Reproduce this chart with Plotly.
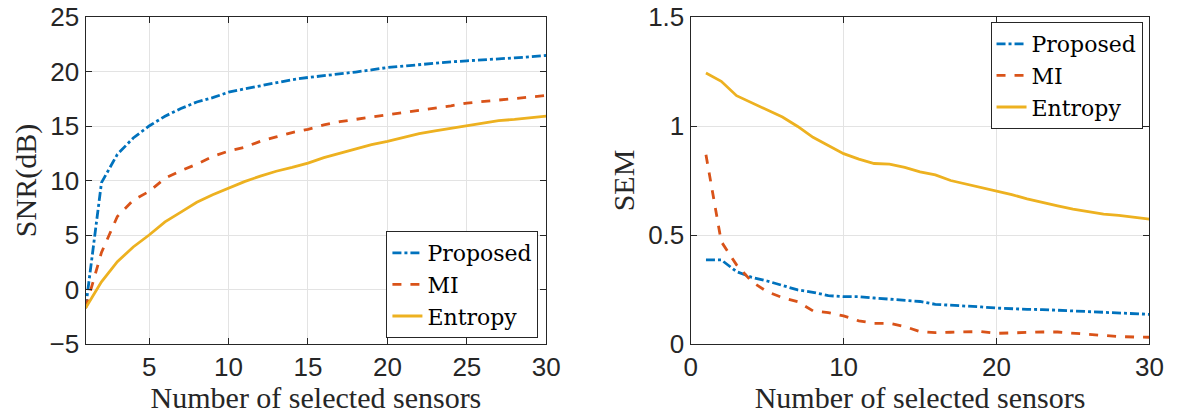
import plotly.graph_objects as go

x_sensors = list(range(1, 31))

snr_proposed = [-1.7, 9.8, 12.4, 13.9, 15.0, 15.9, 16.6, 17.2, 17.6, 18.1,
                18.4, 18.7, 19.0, 19.25, 19.45, 19.6, 19.8, 19.95, 20.15, 20.37,
                20.5, 20.65, 20.78, 20.88, 20.98, 21.05, 21.15, 21.25, 21.35, 21.47]
snr_mi = [-1.7, 3.4, 6.7, 8.2, 9.0, 10.2, 10.9, 11.5, 12.2, 12.7,
          13.05, 13.6, 14.0, 14.4, 14.7, 15.1, 15.4, 15.6, 15.8, 16.0,
          16.2, 16.4, 16.6, 16.85, 17.1, 17.25, 17.4, 17.5, 17.65, 17.8]
snr_entropy = [-1.7, 0.7, 2.55, 3.9, 5.0, 6.2, 7.1, 8.0, 8.7, 9.3,
               9.9, 10.4, 10.85, 11.2, 11.6, 12.1, 12.5, 12.95, 13.3, 13.6,
               13.95, 14.3, 14.55, 14.8, 15.05, 15.3, 15.5, 15.6, 15.75, 15.9]

sem_proposed = [0.386, 0.386, 0.332, 0.306, 0.289, 0.268, 0.248, 0.237, 0.222, 0.217,
                0.217, 0.211, 0.205, 0.200, 0.195, 0.182, 0.179, 0.176, 0.170, 0.165,
                0.161, 0.159, 0.158, 0.155, 0.152, 0.149, 0.145, 0.142, 0.139, 0.136]
sem_mi = [0.868, 0.470, 0.363, 0.286, 0.240, 0.213, 0.194, 0.152, 0.144, 0.129,
          0.106, 0.095, 0.095, 0.080, 0.057, 0.052, 0.054, 0.055, 0.057, 0.049,
          0.052, 0.054, 0.055, 0.055, 0.049, 0.044, 0.038, 0.034, 0.032, 0.031]
sem_entropy = [1.243, 1.205, 1.139, 1.106, 1.072, 1.041, 0.998, 0.948, 0.911, 0.873,
               0.848, 0.828, 0.825, 0.810, 0.790, 0.776, 0.750, 0.734, 0.718, 0.703,
               0.685, 0.666, 0.649, 0.634, 0.619, 0.606, 0.596, 0.590, 0.582, 0.573]

names = ["Proposed", "MI", "Entropy"]
colors = ["#0072BD", "#D95319", "#EDB120"]
dashes = ["dashdot", "dash", "solid"]

W, H = 1186, 414
SERIF = "Liberation Serif"
SANS = "Liberation Sans"
AXC = "#262626"

fig = go.Figure()
for ys, nm, c, d in zip([snr_proposed, snr_mi, snr_entropy], names, colors, dashes):
    fig.add_trace(go.Scatter(x=x_sensors, y=ys, name=nm, mode="lines",
                             line=dict(color=c, width=2.8, dash=d),
                             xaxis="x", yaxis="y", legend="legend"))
for ys, nm, c, d in zip([sem_proposed, sem_mi, sem_entropy], names, colors, dashes):
    fig.add_trace(go.Scatter(x=x_sensors, y=ys, name=nm, mode="lines",
                             line=dict(color=c, width=2.8, dash=d),
                             xaxis="x2", yaxis="y2", legend="legend2"))

axis_common = dict(showline=True, linecolor=AXC, linewidth=1.3, mirror="ticks",
                   ticks="inside", ticklen=6, tickcolor=AXC,
                   showgrid=True, gridcolor="#e3e3e3", gridwidth=1, zeroline=False,
                   tickfont=dict(family=SANS, size=26, color=AXC))

title_font = dict(family=SERIF, size=30, color=AXC)
legend_font = dict(family="DejaVu Serif", size=22, color="black")

top, bottom = 17, 344
fig.update_layout(
    width=W, height=H,
    margin=dict(l=0, r=0, t=top, b=H - bottom),
    paper_bgcolor="white", plot_bgcolor="white",
    xaxis=dict(domain=[80 / W, 549 / W], range=[1, 30], tickvals=[5, 10, 15, 20, 25, 30],
               title=dict(text="Number of selected sensors", font=title_font, standoff=2),
               anchor="y", **axis_common),
    yaxis=dict(domain=[0, 1], range=[-5, 25], tickvals=[-5, 0, 5, 10, 15, 20, 25],
               title=dict(text="SNR(dB)", font=title_font, standoff=4),
               anchor="x", **axis_common),
    xaxis2=dict(domain=[696 / W, 1163 / W], range=[0, 30], tickvals=[0, 10, 20, 30],
                title=dict(text="Number of selected sensors", font=title_font, standoff=2),
                anchor="y2", **axis_common),
    yaxis2=dict(domain=[0, 1], range=[0, 1.5], tickvals=[0, 0.5, 1, 1.5], ticktext=["0", "0.5", "1", "1.5"],
                title=dict(text="SEM", font=title_font, standoff=4),
                anchor="x2", **axis_common),
    legend=dict(x=541 / W, y=(bottom - 338) / (bottom - top), xanchor="right", yanchor="bottom",
                bgcolor="white", bordercolor=AXC, borderwidth=1,
                font=legend_font, itemwidth=30, tracegroupgap=0),
    legend2=dict(x=1156 / W, y=(bottom - 22) / (bottom - top), xanchor="right", yanchor="top",
                 bgcolor="white", bordercolor=AXC, borderwidth=1,
                 font=legend_font, itemwidth=30, tracegroupgap=0),
    showlegend=True,
)

fig.write_html("out.html")
